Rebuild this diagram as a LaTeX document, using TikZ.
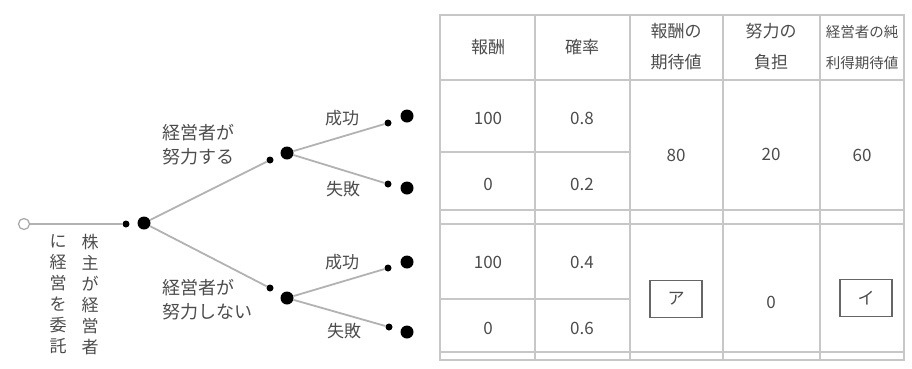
\documentclass[tikz,border=0pt]{standalone}
\usepackage{fontspec}
\setmainfont{Noto Sans CJK JP}
\begin{document}
\begin{tikzpicture}[x=1pt,y=-1pt,
  font=\fontsize{17}{23}\selectfont,
  every node/.style={text=black!70},
  big/.style={circle,fill=black,minimum size=13pt,inner sep=0pt},
  small/.style={circle,fill=black,minimum size=7pt,inner sep=0pt},
  startnode/.style={circle,draw=black!35,line width=1.2pt,minimum size=11pt,inner sep=0pt},
  branch/.style={draw=black!30,line width=1.8pt},
  gridline/.style={draw=black!22,line width=1.6pt},
  lbl/.style={inner sep=0pt,anchor=west,align=left,font=\fontsize{18}{24}\selectfont},
  cell/.style={inner sep=0pt,align=center},
  head/.style={inner sep=0pt,align=center,font=\fontsize{17}{31}\selectfont},
  vcol/.style={inner sep=0pt,align=center,anchor=north,font=\fontsize{17}{21}\selectfont},
  blankbox/.style={draw=black!60,line width=1.4pt,minimum width=52pt,minimum height=37pt,inner sep=0pt}]
\useasboundingbox (0,0) rectangle (912,368);
% tree nodes
\node[startnode] (s) at (24,224) {};
\node[small] (a0) at (126,224) {};
\node[big] (a) at (144,223) {};
\node[small] (u0) at (270,160) {};
\node[big] (u) at (287,153) {};
\node[small] (l0) at (270,288) {};
\node[big] (l) at (287,298) {};
\node[small] (us0) at (388,123) {};
\node[big] (us) at (407,116) {};
\node[small] (uf0) at (388,184) {};
\node[big] (uf) at (407,188) {};
\node[small] (ls0) at (388,268) {};
\node[big] (ls) at (407,262) {};
\node[small] (lf0) at (389,327) {};
\node[big] (lf) at (407,332) {};
% branches
\draw[branch] (s) -- (a0);
\draw[branch] (a) -- (u0);
\draw[branch] (a) -- (l0);
\draw[branch] (u) -- (us0);
\draw[branch] (u) -- (uf0);
\draw[branch] (l) -- (ls0);
\draw[branch] (l) -- (lf0);
% labels
\node[lbl] (ulab) at (162,145) {経営者が\\努力する};
\node[lbl] (llab) at (162,300) {経営者が\\努力しない};
\node[cell] (usl) at (342,118) {成功};
\node[cell] (ufl) at (343,189) {失敗};
\node[cell] (lsl) at (342,262) {成功};
\node[cell] (lfl) at (344,331) {失敗};
\node[vcol] (v1) at (90,234) {株\\主\\が\\経\\営\\者};
\node[vcol] (v2) at (58,234) {に\\経\\営\\を\\委\\託};
% table grid
\draw[gridline] (440,15) rectangle (904,360);
\draw[gridline] (440,80) -- (904,80);
\draw[gridline] (440,210) -- (904,210);
\draw[gridline] (440,224) -- (904,224);
\draw[gridline] (440,352) -- (904,352);
\draw[gridline] (440,152) -- (630,152);
\draw[gridline] (440,299) -- (630,299);
\foreach \x in {535,630,723,820} \draw[gridline] (\x,15) -- (\x,360);
% header
\node[head] (h1) at (488,47) {報酬};
\node[head] (h2) at (582,47) {確率};
\node[head] (h3) at (676,47) {報酬の\\期待値};
\node[head] (h4) at (771,47) {努力の\\負担};
\node[head,font=\fontsize{14.5}{31}\selectfont] (h5) at (862,47) {経営者の純\\利得期待値};
% values upper
\node[cell] (r1a) at (488,118) {100};
\node[cell] (r1b) at (582,118) {0.8};
\node[cell] (r2a) at (488,184) {0};
\node[cell] (r2b) at (582,184) {0.2};
\node[cell] (m1) at (676,155) {80};
\node[cell] (m2) at (771,154) {20};
\node[cell] (m3) at (862,155) {60};
% values lower
\node[cell] (r3a) at (488,262) {100};
\node[cell] (r3b) at (582,262) {0.4};
\node[cell] (r4a) at (488,328) {0};
\node[cell] (r4b) at (582,328) {0.6};
\node[blankbox] (bx1) at (676,299) {ア};
\node[cell] (m5) at (771,302) {0};
\node[blankbox] (bx2) at (866,298) {イ};
\end{tikzpicture}
\end{document}
